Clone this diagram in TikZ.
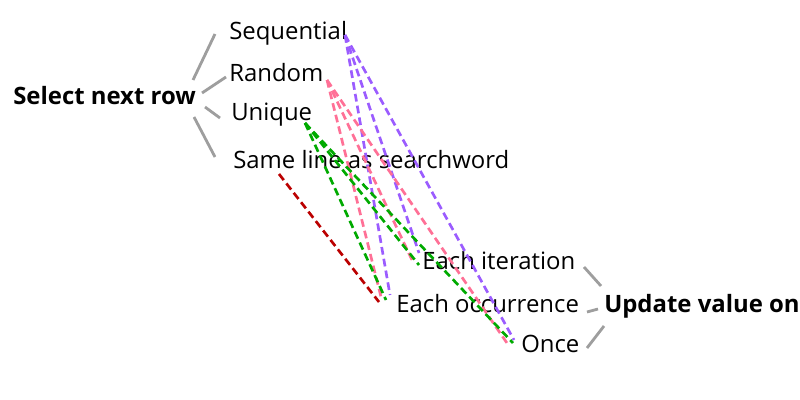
\documentclass[tikz,border=0pt]{standalone}
\usepackage{fontspec}
\setmainfont{Open Sans}
\usetikzlibrary{positioning}

\definecolor{seqcol}{HTML}{9B5CFF}
\definecolor{rndcol}{HTML}{FF7096}
\definecolor{unqcol}{HTML}{00AA00}
\definecolor{samecol}{HTML}{BB0000}

\begin{document}
\begin{tikzpicture}[
  x=0.025cm, y=-0.025cm,
  font=\fontsize{17}{20}\selectfont,
  item/.style={anchor=west, inner sep=0pt},
  head/.style={anchor=west, inner sep=0pt, font=\fontsize{17}{20}\selectfont\bfseries},
  branch/.style={draw=black!38, line width=2pt},
  link/.style={line width=1.9pt, dash pattern=on 5.5pt off 3pt}
]
\useasboundingbox (0,0) rectangle (800,400);

% Left group
\node[head] (sel) at (13,96) {Select next row};
\node[item] (seq) at (229,33) {Sequential};
\node[item] (rnd) at (229,73) {Random};
\node[item] (unq) at (231,115) {Unique};
\node[item] (same) at (233,160) {Same line as searchword};

% Right group
\node[head] (upd) at (604,306) {Update value on};
\node[item] (iter) at (422,261) {Each iteration};
\node[item] (occ) at (396,304) {Each occurrence};
\node[item] (once) at (521,344) {Once};

% Branch ends
\coordinate (sel1) at (193,80);   \coordinate (seq-b) at (215,34);
\coordinate (sel2) at (202,93);   \coordinate (rnd-b) at (226,77);
\coordinate (sel3) at (205,107);  \coordinate (unq-b) at (220,118);
\coordinate (sel4) at (194,117);  \coordinate (same-b) at (215,157);
\coordinate (upd1) at (601,286);  \coordinate (iter-b) at (584,267);
\coordinate (upd2) at (598,309);  \coordinate (occ-b) at (587,312);
\coordinate (upd3) at (604,326);  \coordinate (once-b) at (587,348);

\draw[branch] (sel1) -- (seq-b);
\draw[branch] (sel2) -- (rnd-b);
\draw[branch] (sel3) -- (unq-b);
\draw[branch] (sel4) -- (same-b);
\draw[branch] (upd1) -- (iter-b);
\draw[branch] (upd2) -- (occ-b);
\draw[branch] (upd3) -- (once-b);

% Link ends
\coordinate (seq-l) at (345,35);
\coordinate (rnd-l) at (327,80);
\coordinate (unq-l) at (305,123);
\coordinate (same-l) at (279,174);

\coordinate (iter-s) at (419,253);  \coordinate (occ-s) at (390,295);  \coordinate (once-s) at (514,340);
\coordinate (iter-r) at (412,260);  \coordinate (occ-r) at (381,297);  \coordinate (once-r) at (509,346);
\coordinate (iter-u) at (419,265);  \coordinate (occ-u) at (386,300);  \coordinate (once-u) at (513,343);
\coordinate (occ-x) at (379,302);

% Sequential
\draw[link, seqcol] (seq-l) -- (iter-s);
\draw[link, seqcol] (seq-l) -- (occ-s);
\draw[link, seqcol] (seq-l) -- (once-s);
% Random
\draw[link, rndcol] (rnd-l) -- (iter-r);
\draw[link, rndcol] (rnd-l) -- (occ-r);
\draw[link, rndcol] (rnd-l) -- (once-r);
% Unique
\draw[link, unqcol] (unq-l) -- (iter-u);
\draw[link, unqcol] (unq-l) -- (occ-u);
\draw[link, unqcol] (unq-l) -- (once-u);
% Same line as searchword
\draw[link, samecol] (same-l) -- (occ-x);

\end{tikzpicture}
\end{document}
